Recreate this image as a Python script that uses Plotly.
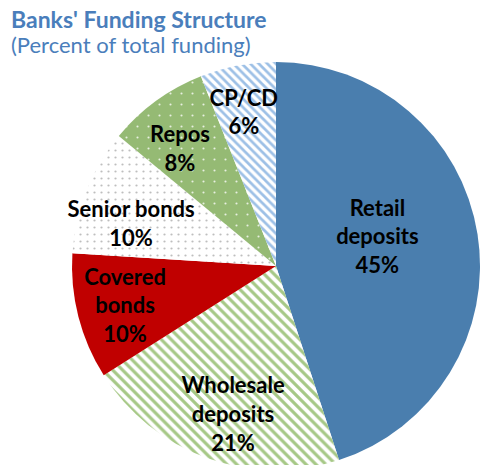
import plotly.graph_objects as go

# Funding sources, clockwise from 12 o'clock
categories = ["Retail deposits", "Wholesale deposits", "Covered bonds",
              "Senior bonds", "Repos", "CP/CD"]
display_names = ["Retail<br>deposits", "Wholesale<br>deposits", "Covered<br>bonds",
                 "Senior bonds", "Repos", "CP/CD"]
shares = [45, 21, 10, 10, 8, 6]
# blank lines padding each label block (above, below) to nudge it within its slice
pad_above = [0, 2, 0, 1, 1, 1]
pad_below = [1, 0, 0, 0, 0, 0]

fill_colors = ["#4A7EAE", "#FFFFFF", "#C00000", "#FFFFFF", "#95BA74", "#FFFFFF"]
pattern_shapes = ["", "\\", "", ".", ".", "\\"]
pattern_fg = ["#4A7EAE", "#A6C886", "#C00000", "#BEBEBE", "#E8F0E0", "#9DC0E6"]
pattern_bg = ["#4A7EAE", "#FFFFFF", "#C00000", "#FFFFFF", "#95BA74", "#FFFFFF"]
pattern_size = [8, 7, 8, 7, 11, 6]
pattern_solidity = [0.3, 0.45, 0.3, 0.08, 0.03, 0.45]

labels_text = [
    " <br>" * a + f"<b>{n}<br>{v}%</b>" + "<br> " * b
    for n, v, a, b in zip(display_names, shares, pad_above, pad_below)
]

W, H = 481, 475

fig = go.Figure(go.Pie(
    labels=categories,
    values=shares,
    text=labels_text,
    textinfo="text",
    textposition="inside",
    insidetextorientation="horizontal",
    insidetextfont=dict(family="Lato", size=22, color="#000000"),
    sort=False,
    direction="clockwise",
    rotation=0,
    marker=dict(
        colors=fill_colors,
        line=dict(width=0),
        pattern=dict(shape=pattern_shapes, fgcolor=pattern_fg, bgcolor=pattern_bg,
                     size=pattern_size, solidity=pattern_solidity),
    ),
    domain=dict(x=[72 / W, 480 / W], y=[5 / H, 413 / H]),
    showlegend=False,
    hoverinfo="label+percent",
))

fig.update_layout(
    width=W, height=H,
    margin=dict(l=0, r=0, t=0, b=0),
    paper_bgcolor="white",
    font=dict(family="Lato"),
    uniformtext=dict(minsize=22, mode="show"),
    annotations=[
        dict(text="<b>Banks' Funding Structure</b>", x=9 / W, y=1 - 3 / H,
             xref="paper", yref="paper", xanchor="left", yanchor="top",
             showarrow=False, font=dict(size=23, color="#4A7EBB")),
        dict(text="(Percent of total funding)", x=9 / W, y=1 - 29 / H,
             xref="paper", yref="paper", xanchor="left", yanchor="top",
             showarrow=False, font=dict(size=22, color="#4A7EBB")),
    ],
)

fig.write_html("out.html",
               post_script="document.documentElement.style.overflow='hidden';"
                           "document.body.style.overflow='hidden';")
